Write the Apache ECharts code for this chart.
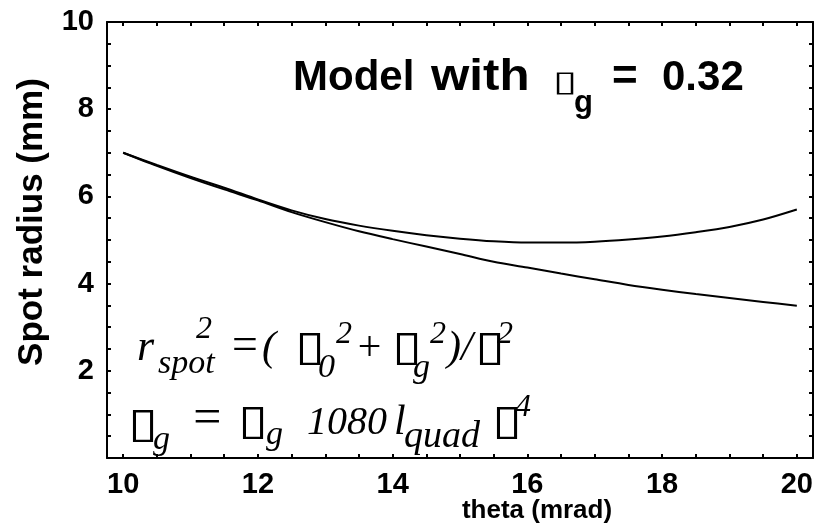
<!DOCTYPE html>
<html>
<head>
<meta charset="utf-8">
<script src="https://cdn.jsdelivr.net/npm/echarts@6/dist/echarts.min.js"></script>
<style>
  html, body { margin: 0; padding: 0; background: #fff; }
  #chart { width: 820px; height: 529px; }
</style>
</head>
<body>
<div id="chart"></div>
<script>
// Beam spot radius versus extraction angle, two model curves
const theta = [10, 10.5, 11, 11.5, 12, 12.5, 13, 13.5, 14, 14.5, 15, 15.5, 16, 16.5, 17, 17.5, 18, 18.5, 19, 19.5, 20];
const radiusWithGrowth = [7.00, 6.72, 6.45, 6.20, 5.93, 5.68, 5.48, 5.33, 5.21, 5.11, 5.03, 4.97, 4.94, 4.94, 4.96, 5.01, 5.08, 5.18, 5.30, 5.47, 5.70];
const radiusNoGrowth = [7.00, 6.70, 6.42, 6.16, 5.91, 5.64, 5.41, 5.20, 5.02, 4.85, 4.68, 4.50, 4.37, 4.23, 4.10, 3.97, 3.86, 3.76, 3.67, 3.58, 3.49];

const xLabelValues = [10, 12, 14, 16, 18, 20];
const yLabelValues = [2, 4, 6, 8, 10];
const xTickValues = [10, 10.5, 11, 11.5, 12, 12.5, 13, 13.5, 14, 14.5, 15, 15.5, 16, 16.5, 17, 17.5, 18, 18.5, 19, 19.5, 20];
const yTickValues = [0.5, 1, 1.5, 2, 2.5, 3, 3.5, 4, 4.5, 5, 5.5, 6, 6.5, 7, 7.5, 8, 8.5, 9, 9.5];

const xTitle = 'theta (mrad)';
const yTitle = 'Spot radius (mm)';

const SANS = '"Liberation Sans", Arial, Helvetica, sans-serif';
const SERIF = '"Liberation Serif", "Times New Roman", serif';
const SYM = '"DejaVu Sans", sans-serif';

const chart = echarts.init(document.getElementById('chart'), null, { renderer: 'canvas' });

const frameLine = { show: true, onZero: false, lineStyle: { color: '#000', width: 2 } };
const tickStyle = { color: '#000', width: 2 };
const labelStyle = { color: '#000', fontFamily: SANS, fontWeight: 'bold', fontSize: 29 };

function xAxisDef(pos, withLabels) {
  return {
    type: 'value', position: pos, min: 9.76, max: 20.24,
    axisLine: frameLine,
    axisTick: { show: true, inside: true, length: 4, customValues: xTickValues, lineStyle: tickStyle },
    axisLabel: withLabels ? Object.assign({ customValues: xLabelValues, margin: 12 }, labelStyle) : { show: false },
    splitLine: { show: false }
  };
}
function yAxisDef(pos, withLabels) {
  return {
    type: 'value', position: pos, min: 0, max: 10,
    axisLine: frameLine,
    axisTick: { show: true, inside: true, length: 4, customValues: yTickValues, lineStyle: tickStyle },
    axisLabel: withLabels ? Object.assign({ customValues: yLabelValues, margin: 13 }, labelStyle) : { show: false },
    splitLine: { show: false }
  };
}

// Text pieces positioned by baseline; canvas 'middle' sits ~0.34em above it
function piece(str, x, baseline, size, font, weight, style, sx) {
  return {
    type: 'text', x: x, y: baseline - 0.34 * size, silent: true,
    scaleX: sx || 1,
    style: {
      text: str, fill: '#000', align: 'left', verticalAlign: 'middle',
      fontFamily: font, fontSize: size, fontWeight: weight || 'normal', fontStyle: style || 'normal'
    }
  };
}
const it = (s, x, b, size) => piece(s, x, b, size, SERIF, 'normal', 'italic');
const BOX = '\u25AF';
// outlined placeholder glyph, stretched sideways
const box = (x, b, size, sx) => piece(BOX, x, b, size, SYM, 'bold', 'normal', sx);

const graphics = [
  // axis titles
  {
    type: 'text', x: 32, y: 222, rotation: Math.PI / 2, silent: true,
    style: { text: yTitle, fill: '#000', align: 'center', verticalAlign: 'middle',
             fontFamily: SANS, fontWeight: 'bold', fontSize: 35 }
  },
  {
    type: 'text', x: 537, y: 511, silent: true,
    style: { text: xTitle, fill: '#000', align: 'center', verticalAlign: 'middle',
             fontFamily: SANS, fontWeight: 'bold', fontSize: 26 }
  },
  // model label
  piece('Model', 293, 93, 42, SANS, 'bold'),
  piece('with', 431, 93, 44, SANS, 'bold', 'normal', 1.12),
  box(553, 93, 29, 1.55),
  piece('g', 574, 114, 31, SANS, 'bold'),
  piece('=', 612, 93, 44, SANS, 'bold'),
  piece('0.32', 662, 93, 42, SANS, 'bold'),
  // first formula line
  it('r', 137, 363, 44),
  it('spot', 158, 376, 34),
  it('2', 196, 340, 32),
  it('=', 229, 363, 46),
  it('(', 262, 363, 42),
  box(295, 363, 42, 1.3),
  it('0', 318, 380, 34),
  it('2', 336, 345, 32),
  it('+', 355, 363, 42),
  box(392, 363, 42, 1.3),
  it('g', 413, 380, 34),
  it('2', 430, 345, 32),
  it(')/', 447, 363, 42),
  box(475, 363, 42, 1.3),
  it('2', 497, 345, 32),
  // second formula line
  box(128, 440, 42, 1.3),
  it('g', 153, 452, 34),
  it('=', 190, 437, 50),
  box(238, 437, 42, 1.3),
  it('g', 266, 447, 34),
  it('1080', 307, 437, 40),
  it('l', 394, 437, 42),
  it('quad', 404, 450, 38),
  box(492, 437, 42, 1.3),
  it('4', 515, 418, 32)
];

function pairs(xs, ys) { return xs.map((x, i) => [x, ys[i]]); }

chart.setOption({
  animation: false,
  backgroundColor: '#fff',
  grid: { left: 107, right: 7, top: 22, bottom: 71, containLabel: false },
  xAxis: [xAxisDef('bottom', true), xAxisDef('top', false)],
  yAxis: [yAxisDef('left', true), yAxisDef('right', false)],
  series: [
    {
      name: 'with growth', type: 'line', xAxisIndex: 0, yAxisIndex: 0,
      data: pairs(theta, radiusWithGrowth), smooth: 0.3, showSymbol: false,
      lineStyle: { color: '#000', width: 2 }
    },
    {
      name: 'without growth', type: 'line', xAxisIndex: 0, yAxisIndex: 0,
      data: pairs(theta, radiusNoGrowth), smooth: 0.3, showSymbol: false,
      lineStyle: { color: '#000', width: 2 }
    }
  ],
  graphic: graphics
});
</script>
</body>
</html>
